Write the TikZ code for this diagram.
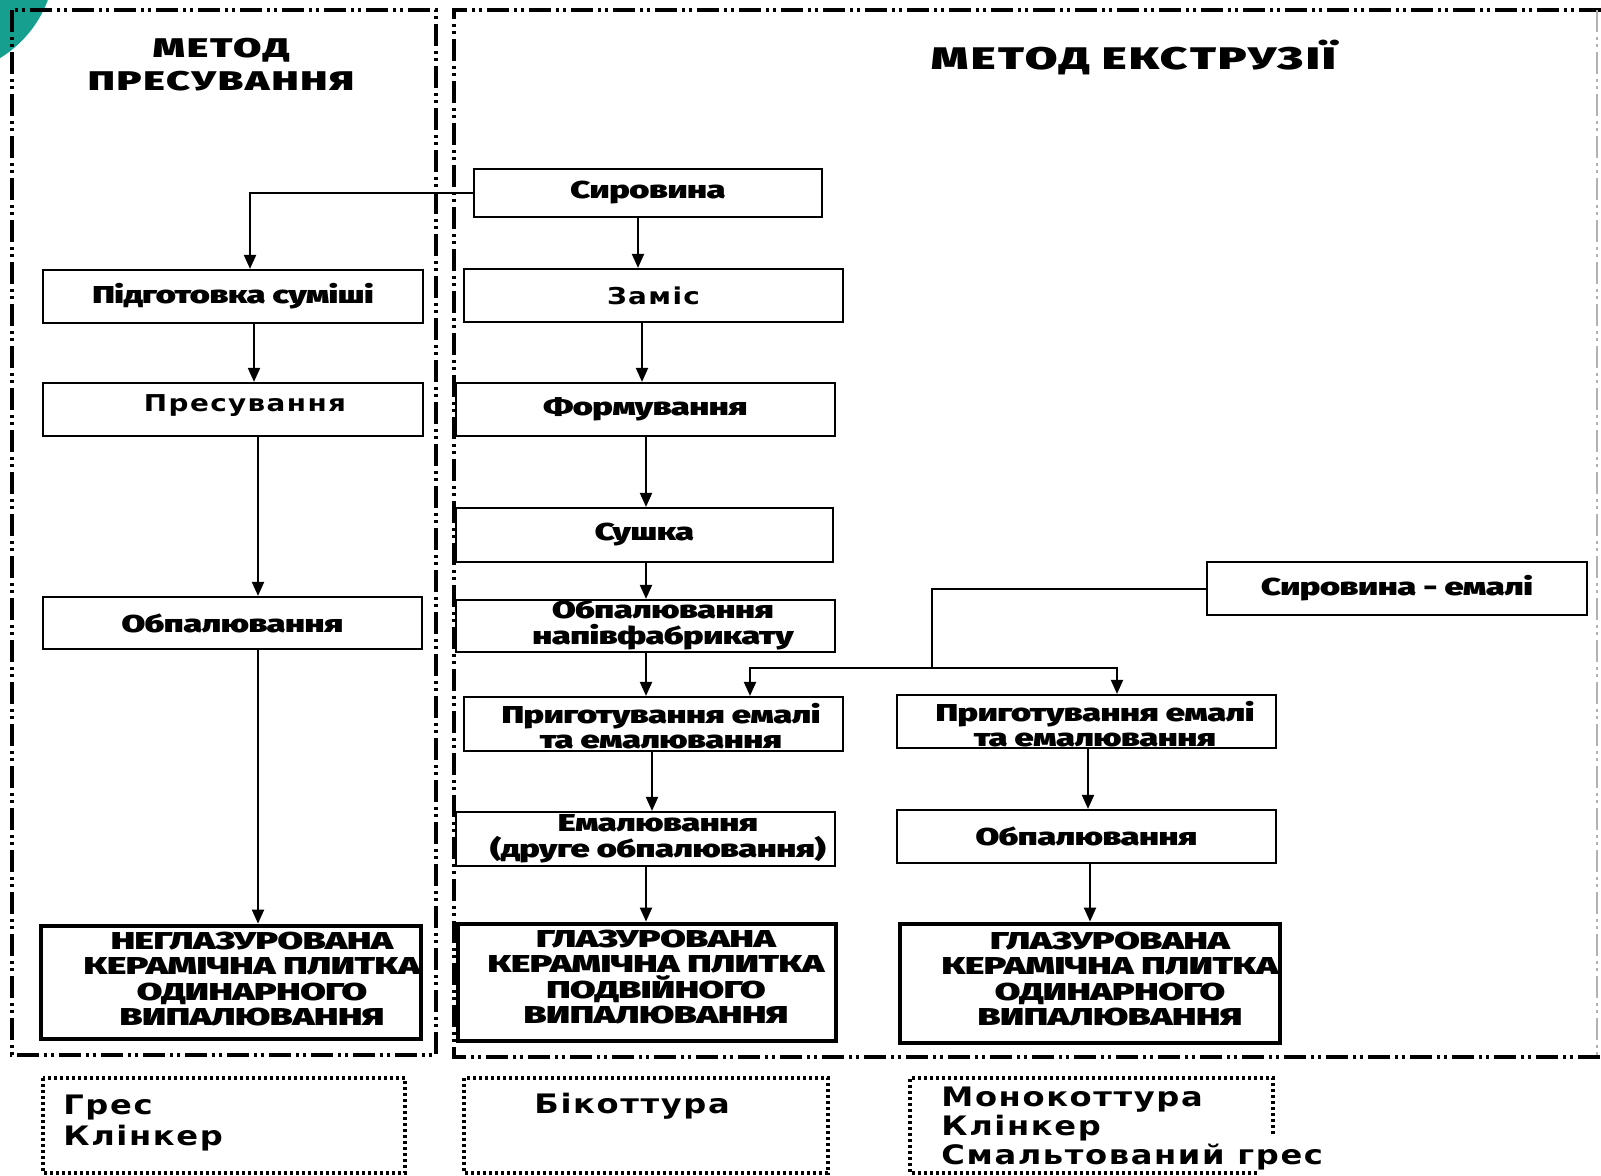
\documentclass[tikz,border=0pt]{standalone}
\usepackage{fontspec}
\usetikzlibrary{arrows.meta}
\newfontfamily\hv{Fira Sans Black}[FakeStretch=1.41,LetterSpace=-2]
\newfontfamily\hvc{Fira Sans Black}[FakeStretch=1.52,LetterSpace=-2]
\newfontfamily\hvt{Fira Sans Black}[FakeStretch=1.5,LetterSpace=8]
\newfontfamily\dv{DejaVu Sans Bold}[FakeStretch=1.2,LetterSpace=6]
\definecolor{tealc}{RGB}{22,158,143}
\begin{document}
\begin{tikzpicture}[x=0.5pt,y=-0.5pt,
  box/.style={draw, line width=1.1pt, inner sep=0pt, align=center,
    font=\hv\fontsize{12.2}{12.8}\selectfont},
  rbox/.style={box, font=\dv\fontsize{11.6}{12}\selectfont},
  rlbl/.style={inner sep=0pt, font=\dv\fontsize{11.6}{12}\selectfont},
  bigbox/.style={draw, line width=2.4pt, inner sep=0pt},
  lbl/.style={inner sep=0pt, align=center, font=\hv\fontsize{12.2}{12.8}\selectfont},
  lblc/.style={inner sep=0pt, align=center, font=\hvc\fontsize{12.2}{12.8}\selectfont},
  ttl/.style={inner sep=0pt, align=center, font=\hvt\fontsize{13.5}{16.5}\selectfont},
  ttlb/.style={inner sep=0pt, align=center, font=\hvt\fontsize{15.6}{16.5}\selectfont},
  btxt/.style={inner sep=0pt, align=left, anchor=west, font=\dv\fontsize{13.4}{14.5}\selectfont},
  arr/.style={line width=1pt, -{Triangle[length=7pt,width=6pt]}},
  conn/.style={line width=1pt},
  frame/.style={line width=2.4pt, dash pattern=on 11pt off 2.5pt on 1.5pt off 2pt on 1.5pt off 2.5pt},
  dotbox/.style={line width=1.6pt, dash pattern=on 1.5pt off 1.5pt}]
\useasboundingbox (0,0) rectangle (1601,1175);
\begin{scope}
\clip (0,0) rectangle (1601,1175);
\fill[tealc] (-60,-40) circle (115);
\fill[black!10] (-35,1205) circle (45);
\end{scope}
% frames
\draw[frame] (12,10) rectangle (436,1055);
\draw[frame] (1601,10) -- (454,10) -- (454,1057) -- (1601,1057);
\draw[frame, black!30, line width=1pt] (1597,10) -- (1597,1057);
% titles
\node[ttl] (t1) at (221,65) {МЕТОД\\ПРЕСУВАННЯ};
\node[ttlb] (t2) at (1134,57) {МЕТОД ЕКСТРУЗІЇ};
% boxes
\node[box, minimum width=174pt, minimum height=24pt] (syr) at (648,193) {Сировина};
\node[box, minimum width=190pt, minimum height=26.5pt] (pidg) at (233,296.5) {Підготовка суміші};
\node[rbox, minimum width=189.5pt, minimum height=26.5pt] (zam) at (653.5,295.5) {Заміс};
\node[box, minimum width=190pt, minimum height=26.5pt] (pres) at (233,409.5) {};
\node[rlbl] (prest) at (245,406) {Пресування};
\node[box, minimum width=189.5pt, minimum height=26.5pt] (form) at (645.5,409.5) {Формування};
\node[box, minimum width=188.5pt, minimum height=27pt] (sush) at (644.5,535) {Сушка};
\node[box, minimum width=189.5pt, minimum height=26pt] (obpL) at (232.5,623) {Обпалювання};
\node[box, minimum width=189.5pt, minimum height=26pt] (obpN) at (645.5,626) {};
\node[lbl] (obpNt) at (663,625) {Обпалювання\\напівфабрикату};
\node[box, minimum width=190pt, minimum height=26.5pt] (syrE) at (1397,588.5) {Сировина - емалі};
\node[box, minimum width=189.5pt, minimum height=27pt] (prigM) at (653.5,724) {};
\node[lbl] (prigMt) at (661,726) {Приготування емалі\\та емалювання};
\node[box, minimum width=189.5pt, minimum height=26.5pt] (prigR) at (1086.5,721.5) {};
\node[lbl] (prigRt) at (1095,724) {Приготування емалі\\та емалювання};
\node[box, minimum width=189.5pt, minimum height=27pt] (emal) at (645.5,839) {};
\node[lbl] (emalt) at (658,839) {Емалювання\\(друге обпалювання)};
\node[box, minimum width=189.5pt, minimum height=26.5pt] (obpR) at (1086.5,836.5) {Обпалювання};
\node[bigbox, minimum width=190pt, minimum height=56.5pt] (bigL) at (231,982.5) {};
\node[lblc] (bigLt) at (252,979) {НЕГЛАЗУРОВАНА\\КЕРАМІЧНА ПЛИТКА\\ОДИНАРНОГО\\ВИПАЛЮВАННЯ};
\node[bigbox, minimum width=189pt, minimum height=58.5pt] (bigM) at (647,982.5) {};
\node[lblc] (bigMt) at (656,977) {ГЛАЗУРОВАНА\\КЕРАМІЧНА ПЛИТКА\\ПОДВІЙНОГО\\ВИПАЛЮВАННЯ};
\node[bigbox, minimum width=190pt, minimum height=59.5pt] (bigR) at (1090,983.5) {};
\node[lblc] (bigRt) at (1110,979) {ГЛАЗУРОВАНА\\КЕРАМІЧНА ПЛИТКА\\ОДИНАРНОГО\\ВИПАЛЮВАННЯ};
% connectors
\coordinate (xa) at (250,0);
\coordinate (xb) at (254,0);
\coordinate (xc) at (258,0);
\coordinate (xd) at (638,0);
\coordinate (xe) at (642,0);
\coordinate (xf) at (646,0);
\coordinate (xg) at (652,0);
\coordinate (xh) at (750,0);
\coordinate (xi) at (1117,0);
\coordinate (xj) at (1088,0);
\coordinate (xk) at (1090,0);
\coordinate (j) at (932,668);
\draw[arr] (syr.west) -| (xa |- pidg.north);
\draw[arr] (xd |- syr.south) -- (xd |- zam.north);
\draw[arr] (xb |- pidg.south) -- (xb |- pres.north);
\draw[arr] (xe |- zam.south) -- (xe |- form.north);
\draw[arr] (xc |- pres.south) -- (xc |- obpL.north);
\draw[arr] (xf |- form.south) -- (xf |- sush.north);
\draw[arr] (xc |- obpL.south) -- (xc |- bigL.north);
\draw[arr] (xf |- sush.south) -- (xf |- obpN.north);
\draw[arr] (xf |- obpN.south) -- (xf |- prigM.north);
\draw[conn] (syrE.west) -| (j);
\draw[arr] (j) -| (xh |- prigM.north);
\draw[arr] (j) -| (xi |- prigR.north);
\draw[arr] (xg |- prigM.south) -- (xg |- emal.north);
\draw[arr] (xf |- emal.south) -- (xf |- bigM.north);
\draw[arr] (xj |- prigR.south) -- (xj |- obpR.north);
\draw[arr] (xk |- obpR.south) -- (xk |- bigR.north);
% bottom dotted boxes
\draw[dotbox] (43,1078) rectangle (405,1173);
\draw[dotbox] (464,1078) rectangle (828,1173);
\draw[dotbox] (1273,1134) -- (1273,1078) -- (910,1078) -- (910,1173) -- (1258,1173);
\node[btxt] (g1) at (63,1123) {Грес\\[1pt]Клінкер};
\node[btxt] (g2) at (534,1106) {Бікоттура};
\node[btxt] (g3) at (941,1128) {Монокоттура\\Клінкер\\Смальтований грес};
\end{tikzpicture}
\end{document}
